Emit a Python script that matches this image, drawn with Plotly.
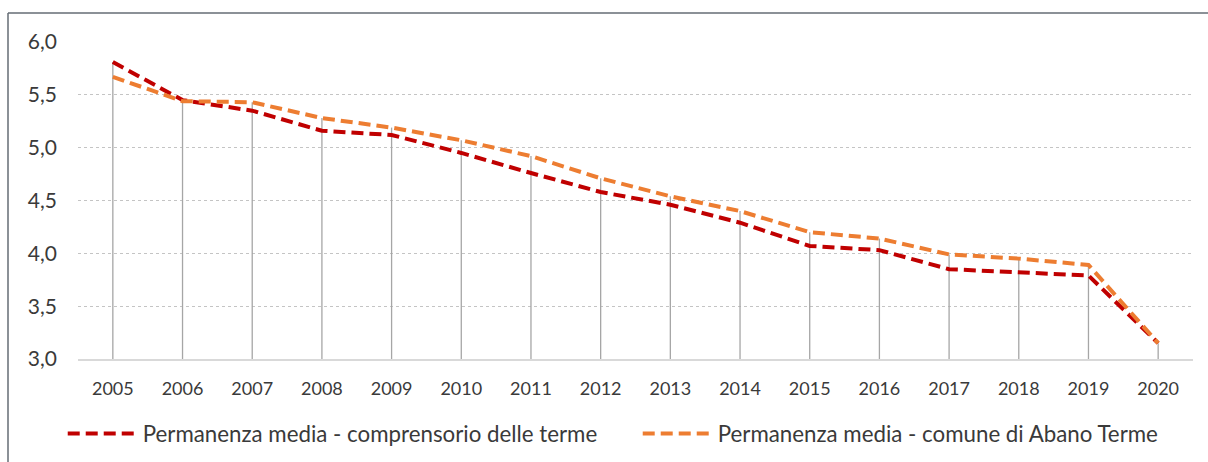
import plotly.graph_objects as go

years = [str(y) for y in range(2005, 2021)]
comprensorio = [5.81, 5.45, 5.35, 5.16, 5.12, 4.95, 4.76, 4.58, 4.46, 4.29, 4.07, 4.03, 3.85, 3.82, 3.79, 3.15]
abano = [5.67, 5.44, 5.43, 5.28, 5.19, 5.07, 4.92, 4.71, 4.54, 4.40, 4.20, 4.14, 3.99, 3.95, 3.89, 3.15]
y_ticks = [3.0, 3.5, 4.0, 4.5, 5.0, 5.5, 6.0]
name_comp = "Permanenza media - comprensorio delle terme"
name_abano = "Permanenza media - comune di Abano Terme"

FONT = "Lato"
TXT = "#3a3a3a"

# drop lines from the highest point of each year to the baseline
base = y_ticks[0]
dx, dy = [], []
for yr, a, b in zip(years, comprensorio, abano):
    dx += [yr, yr, None]
    dy += [max(a, b), base, None]

fig = go.Figure()
fig.add_trace(go.Scatter(x=dx, y=dy, mode="lines", line=dict(color="#a6a6a6", width=1.3),
                         showlegend=False, hoverinfo="skip"))
fig.add_trace(go.Scatter(x=years, y=comprensorio, name=name_comp, mode="lines",
                         line=dict(color="#C00000", width=4, dash="12px,6px")))
fig.add_trace(go.Scatter(x=years, y=abano, name=name_abano, mode="lines",
                         line=dict(color="#ED7D31", width=4, dash="12px,6px")))

fig.update_layout(
    width=1208, height=462,
    margin=dict(l=78, r=15, t=42, b=103, autoexpand=False),
    paper_bgcolor="white", plot_bgcolor="white",
    separators=",.",
    font=dict(family=FONT, color=TXT),
    showlegend=True,
    legend=dict(orientation="h", x=-0.0137, xanchor="left", y=-0.235, yanchor="middle",
                font=dict(size=22.3, family=FONT, color=TXT),
                entrywidth=490, itemwidth=70, bgcolor="rgba(0,0,0,0)"),
    shapes=[
        dict(type="line", xref="paper", yref="paper", x0=(8 - 78) / 1115, x1=1.2,
             y0=(359 - 13) / 317, y1=(359 - 13) / 317, line=dict(color="#646c74", width=1.5)),
        dict(type="line", xref="paper", yref="paper", x0=(8 - 78) / 1115, x1=(8 - 78) / 1115,
             y0=(359 - 13) / 317, y1=-0.5, line=dict(color="#646c74", width=1.5)),
    ],
)
fig.update_xaxes(type="category", range=[-0.5, len(years) - 0.5], showgrid=False,
                 showline=True, linecolor="#d9d9d9", linewidth=2, ticks="",
                 tickfont=dict(size=18, family=FONT, color=TXT), ticklabelstandoff=12)
fig.update_yaxes(range=[3.0, 6.0], tickvals=y_ticks, tickformat=".1f",
                 showgrid=True, gridcolor="#c4c4c4", griddash="dot", gridwidth=1,
                 zeroline=False, showline=False, ticks="",
                 tickfont=dict(size=21, family=FONT, color=TXT), ticklabelstandoff=20)

fig.write_html("out.html", config={"displayModeBar": False},
               post_script="document.body.style.margin='0';document.body.style.overflow='hidden';")
